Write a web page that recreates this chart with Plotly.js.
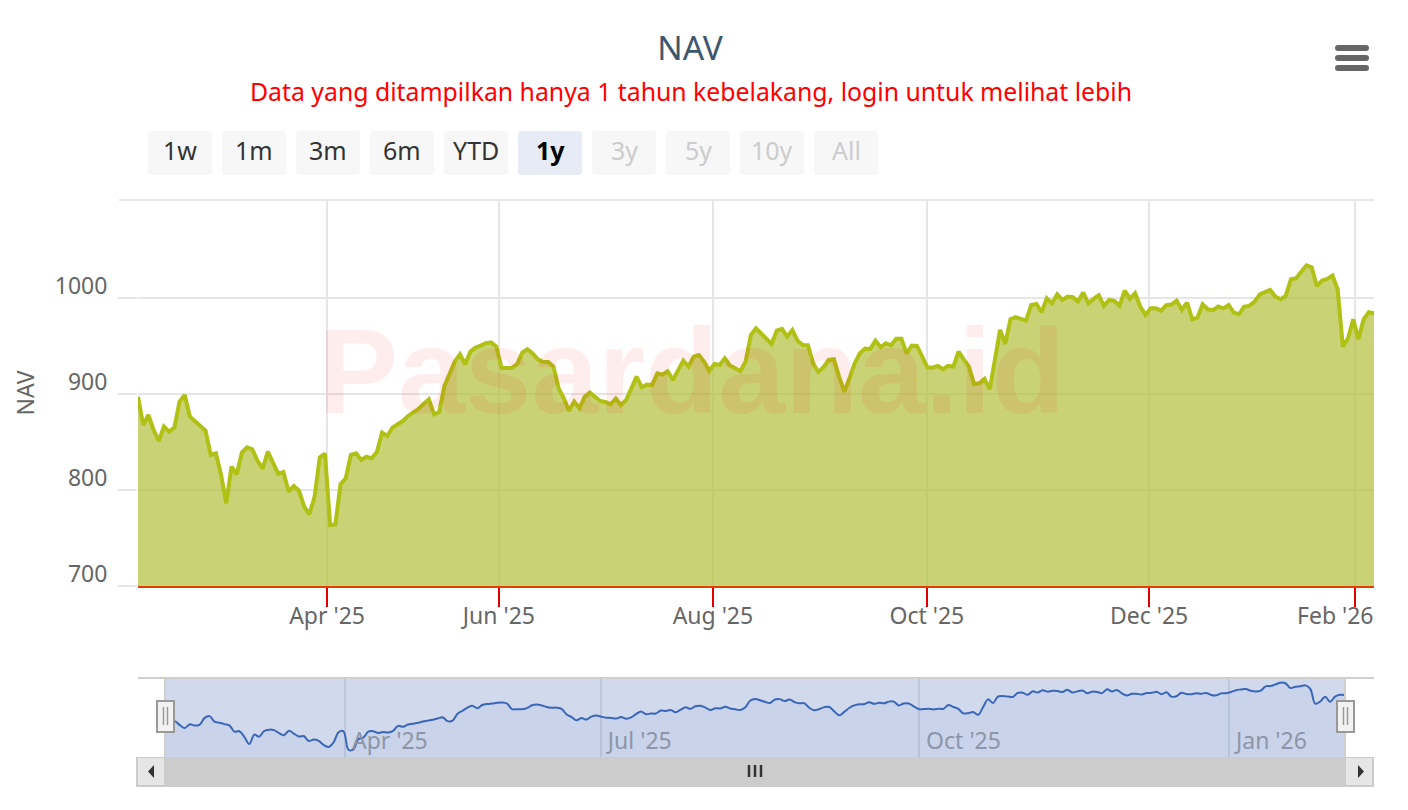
<!DOCTYPE html>
<html><head><meta charset="utf-8">
<script src="https://cdn.plot.ly/plotly-3.0.1.min.js"></script>
<style>html,body{margin:0;padding:0;background:#fff}#c{width:1408px;height:810px}</style>
</head><body><div id="c"></div>
<script>
const navValues = [
897,867.7,878.1,862.5,851,866,860.8,865,892,899,
876.4,872.2,866.7,861.8,836.5,838.2,815.6,786.1,824.3,816.3,
838.9,844.4,842.4,830.6,822.2,839.9,828.5,816.7,818.7,798.3,
804.2,799.3,782.6,774.7,793,834,837.8,763.5,764.2,806.2,
812.1,836.5,838.2,831.2,834.7,833,839.6,859.7,856.2,865,
868.4,871.9,877.1,880.9,884.4,889.6,894.4,878.8,881.2,908.3,
920.8,933.7,941.3,930.9,944.1,948.3,950.3,952.8,953.8,949.3,
927.1,927.1,927.1,931.2,943,946.5,942.3,936.1,933.3,933.3,
928.5,905.9,895.5,882.3,892,885,897.2,901.4,896.5,892.7,
891.7,889.2,895.1,888.5,893.7,906.9,918,906.9,909.7,909.4,
921.5,920.1,923.6,914.6,925,934.7,928.5,938.9,940.6,933.7,
923.9,931.2,930.2,937.1,929.5,926.7,923.9,933.7,961.4,968.4,
963.2,956.9,952.1,966,967.7,959.7,966.6,955.5,951,950.7,
931.9,922.9,927.8,935.4,936.1,918,902.4,916.3,931.9,942.3,
947.2,946.9,955.5,948.6,952.8,950.7,957.6,957.6,942.3,950.3,
950,938.9,927.8,927.4,929.2,925.7,929.2,928.5,944.1,936.1,
928.5,910.4,911.1,915.6,904.9,935.4,966.7,952.1,977.8,979.9,
978.1,976.4,992.7,993.8,985.1,999.7,994.4,1003.8,997.9,1001.4,
1000.7,996.2,1005.6,994.4,999,1002.8,991.7,997.9,996.9,992,
1007.6,999,1004.9,991,982.3,989.2,989.2,986.8,992.4,993.1,
997.2,987.5,995.1,977.8,979.5,993.4,988.2,987.2,991,989.2,
992.7,984.7,983,991,991.7,996.2,1003.8,1006.6,1008.3,1001.4,
998.6,1002.1,1019.4,1020.5,1027.4,1034,1031.9,1012.5,1018.1,1019.8,
1023.3,1009,949.3,958,977.8,957,977.8,985.1,984
];
const sessions = navValues.map((_, i) => i);
const yTicks = [700, 800, 900, 1000];
const yTickLabels = ['700', '800', '900', '1000'];
const mainTickPos = [36.4, 69.5, 110.7, 151.9, 194.7, 234.4];
const mainTickLabels = ["Apr '25", "Jun '25", "Aug '25", "Oct '25", "Dec '25", ""];
const lastTickLabel = "Feb '26";
const navTickPos = [36.3, 87.9, 152.1, 214.6];
const navTickLabels = ["Apr '25", "Jul '25", "Oct '25", "Jan '26"];
const rangeButtons = ['1w', '1m', '3m', '6m', 'YTD', '1y', '3y', '5y', '10y', 'All'];
const activeButton = '1y';
const disabledButtons = ['3y', '5y', '10y', 'All'];

const W = 1408, H = 810, FONT = '"Noto Sans", sans-serif';
const fx = p => p / W, fy = p => 1 - p / H;
function rr(x0, y0, x1, y1, r) {
  const a = fx(x0), b = fx(x1), t = fy(y0), u = fy(y1), rx = r / W, ry = r / H;
  return `M${a + rx},${t} L${b - rx},${t} Q${b},${t} ${b},${t - ry} L${b},${u + ry} Q${b},${u} ${b - rx},${u} L${a + rx},${u} Q${a},${u} ${a},${u + ry} L${a},${t - ry} Q${a},${t} ${a + rx},${t} Z`;
}
const rect = (x0, y0, x1, y1, fill, line, w, layer) => ({type:'rect', xref:'paper', yref:'paper', x0:fx(x0), x1:fx(x1), y0:fy(y0), y1:fy(y1), fillcolor:fill, line:{color:line||fill, width:w===undefined?0:w}, layer:layer||'above'});
const seg = (x0, y0, x1, y1, color, w, layer) => ({type:'line', xref:'paper', yref:'paper', x0:fx(x0), x1:fx(x1), y0:fy(y0), y1:fy(y1), line:{color, width:w}, layer:layer||'above'});
const pathS = (d, fill, line, w, layer) => ({type:'path', xref:'paper', yref:'paper', path:d, fillcolor:fill, line:{color:line||fill, width:w||0}, layer:layer||'above'});
const tri = (pts, fill) => pathS('M' + pts.map(p => fx(p[0]) + ',' + fy(p[1])).join(' L') + ' Z', fill);

const shapes = [];
const annotations = [];

// top gridline
shapes.push(seg(119, 200, 1374, 200, '#e6e6e6', 2, 'below'));
// navigator
shapes.push(rect(165, 679, 1345, 757, 'rgba(102,133,194,0.3)', null, 0, 'below'));
shapes.push(seg(138, 678, 1374, 678, '#cfcfcb', 2));
shapes.push(seg(165, 678, 165, 757, '#cfcfcb', 2));
shapes.push(seg(1345, 678, 1345, 757, '#cfcfcb', 2));
[[157, 174], [1337, 1354]].forEach(h => {
  shapes.push(rect(h[0], 701, h[1], 732, '#f2f2f2', '#999999', 2));
  const m = (h[0] + h[1]) / 2;
  shapes.push(seg(m - 2, 707, m - 2, 725, '#999999', 1.5));
  shapes.push(seg(m + 2, 707, m + 2, 725, '#999999', 1.5));
});
// scrollbar
shapes.push(rect(136, 757, 1374, 787, '#cccccc', '#cccccc', 0));
shapes.push(rect(138, 758, 164, 785, '#e6e6e6', '#e6e6e6', 0));
shapes.push(rect(1346, 758, 1372, 785, '#e6e6e6', '#e6e6e6', 0));
shapes.push(tri([[154, 765], [154, 778], [148, 771.5]], '#333333'));
shapes.push(tri([[1358, 765], [1358, 778], [1364, 771.5]], '#333333'));
[749, 755, 761].forEach(x => shapes.push(seg(x, 765, x, 777, '#333333', 2.5)));
// hamburger
[48, 58, 68].forEach(y => shapes.push(pathS(rr(1335, y - 3, 1369, y + 3, 3), '#666666')));
// range buttons
rangeButtons.forEach((b, i) => {
  const x0 = 148 + i * 74;
  const on = b === activeButton, off = disabledButtons.includes(b);
  shapes.push(pathS(rr(x0, 131, x0 + 64, 175, 4), on ? '#e6ebf5' : '#f7f7f7'));
  annotations.push({xref:'paper', yref:'paper', x:fx(x0 + 32), y:fy(150), text:on ? '<b>' + b + '</b>' : b, showarrow:false,
    font:{family:FONT, size:25, color:on ? '#000000' : off ? '#cccccc' : '#333333'}, xanchor:'center', yanchor:'middle'});
});
// subtitle
annotations.push({xref:'paper', yref:'paper', x:fx(691), y:fy(91.5), text:'Data yang ditampilkan hanya 1 tahun kebelakang, login untuk melihat lebih', showarrow:false,
  font:{family:FONT, size:24.8, color:'#ff0000'}, xanchor:'center', yanchor:'middle'});
// watermark
annotations.push({xref:'paper', yref:'paper', x:fx(691), y:fy(371), text:'<b>Pasardana.id</b>', showarrow:false,
  font:{family:'"Liberation Sans", sans-serif', size:120, color:'rgba(255,0,0,0.075)'}, xanchor:'center', yanchor:'middle'});
// last tick label kept inside the plot
annotations.push({xref:'x', yref:'paper', x:mainTickPos[5], xshift:-20, y:fy(615), text:lastTickLabel, showarrow:false,
  font:{family:FONT, size:23, color:'#666666'}, xanchor:'center', yanchor:'middle'});

const traces = [
  {x:sessions, y:navValues, xaxis:'x', yaxis:'y', type:'scatter', mode:'lines', name:'NAV',
   line:{color:'#b0c014', width:4}, fill:'tozeroy', fillcolor:'rgba(174,189,50,0.667)', hoverinfo:'y'},
  {x:sessions, y:navValues, xaxis:'x2', yaxis:'y2', type:'scatter', mode:'lines', name:'Navigator',
   line:{color:'#3a66b8', width:2, shape:'spline', smoothing:1}, fill:'tozeroy', fillcolor:'rgba(102,133,194,0.07)', hoverinfo:'skip'}
];

const layout = {
  width:W, height:H, margin:{l:0, r:0, t:0, b:0, pad:0}, autosize:false, showlegend:false,
  paper_bgcolor:'#ffffff', plot_bgcolor:'rgba(0,0,0,0)',
  font:{family:FONT, color:'#666666'},
  title:{text:'NAV', font:{family:FONT, size:33.5, color:'#3e576f'}, x:fx(690), xanchor:'center', y:fy(48), yanchor:'middle'},
  xaxis:{domain:[fx(138), fx(1374)], range:[0, sessions.length - 1], tickmode:'array', tickvals:mainTickPos, ticktext:mainTickLabels,
    showgrid:true, gridcolor:'#e6e6e6', gridwidth:2, ticks:'outside', ticklen:19, tickwidth:2, tickcolor:'#e00000',
    showline:true, linecolor:'#e04000', linewidth:2, tickfont:{family:FONT, size:23, color:'#666666'}, zeroline:false, anchor:'y', ticklabelstandoff:-11},
  yaxis:{domain:[fy(586), fy(200)], range:[700, 1102], tickmode:'array', tickvals:yTicks, ticktext:yTickLabels,
    showgrid:true, gridcolor:'#e6e6e6', gridwidth:2, ticks:'outside', ticklen:19, tickwidth:2, tickcolor:'#e6e6e6',
    tickfont:{family:FONT, size:23, color:'#666666'}, zeroline:false, ticklabelshift:-12, ticklabelstandoff:6,
    title:{text:'NAV', font:{family:FONT, size:23, color:'#666666'}, standoff:13}, anchor:'x', automargin:false},
  xaxis2:{domain:[fx(165), fx(1345)], range:[0, sessions.length - 1], tickmode:'array', tickvals:navTickPos, ticktext:navTickLabels,
    showgrid:true, gridcolor:'#bcc8dc', gridwidth:2, ticks:'', ticklabelposition:'inside right', ticklabelstandoff:-3, ticklabelshift:7,
    tickfont:{family:FONT, size:23, color:'#8c96a8'}, zeroline:false, showline:false, anchor:'y2'},
  yaxis2:{domain:[fy(757), fy(679)], range:[734, 1049], showgrid:false, showticklabels:false, ticks:'', zeroline:false, showline:false, anchor:'x2'},
  shapes, annotations
};
Plotly.newPlot('c', traces, layout, {displayModeBar:false, responsive:false});
</script></body></html>
